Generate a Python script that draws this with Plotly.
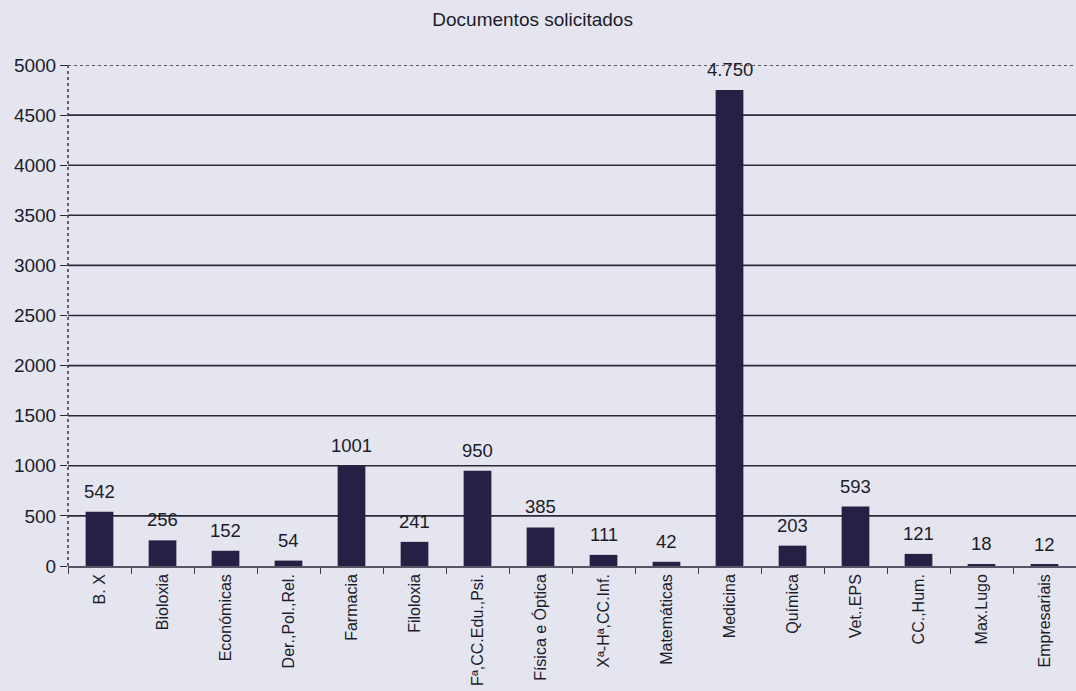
import plotly.graph_objects as go

categories = ["B. X", "Bioloxia", "Económicas", "Der.,Pol.,Rel.", "Farmacia", "Filoloxia",
              "Fª,CC.Edu.,Psi.", "Física e Óptica", "Xª-Hª,CC.Inf.", "Matemáticas", "Medicina",
              "Química", "Vet.,EPS", "CC.,Hum.", "Max.Lugo", "Empresariais"]
values = [542, 256, 152, 54, 1001, 241, 950, 385, 111, 42, 4750, 203, 593, 121, 18, 12]
value_labels = ["542", "256", "152", "54", "1001", "241", "950", "385", "111", "42", "4.750",
                "203", "593", "121", "18", "12"]
y_ticks = [0, 500, 1000, 1500, 2000, 2500, 3000, 3500, 4000, 4500, 5000]
solid_grid = [500, 1000, 1500, 2000, 2500, 3000, 3500, 4000, 4500]
top_grid = [5000]

BG = "#e5e5ef"
BAR = "#242144"
INK = "#1c1c2a"
FONT = "Liberation Sans, Arial, sans-serif"

fig = go.Figure()
fig.add_trace(go.Bar(x=categories, y=values, marker=dict(color=BAR, line=dict(width=0)),
                     hoverinfo="x+y"))

annotations = []
for c, v, t in zip(categories, values, value_labels):
    annotations.append(dict(x=c, y=v, text=t, showarrow=False, xref="x", yref="y",
                            yanchor="bottom", yshift=8,
                            font=dict(family=FONT, size=18.5, color=INK)))

shapes = []
for g in solid_grid:
    shapes.append(dict(type="line", xref="paper", x0=0, x1=1, yref="y", y0=g, y1=g,
                       line=dict(color="#2a2a3a", width=1.6), layer="below"))
for g in top_grid:
    shapes.append(dict(type="line", xref="paper", x0=0, x1=1, yref="y", y0=g, y1=g,
                       line=dict(color="#2a2a3a", width=1.6, dash="dot"), layer="below"))
shapes.append(dict(type="line", xref="paper", x0=0, x1=0, yref="y", y0=0, y1=max(y_ticks),
                   line=dict(color="#2a2a3a", width=1.4, dash="dot"), layer="below"))

fig.update_layout(
    width=1076, height=691,
    paper_bgcolor=BG, plot_bgcolor=BG,
    margin=dict(l=68, r=0, t=65, b=125),
    bargap=0.56,
    showlegend=False,
    title=dict(text="Documentos solicitados", xref="container", x=0.495, xanchor="center",
               yref="container", y=0.972, yanchor="middle",
               font=dict(family=FONT, size=19, color=INK)),
    annotations=annotations,
    shapes=shapes,
    xaxis=dict(type="category", tickangle=-90, tickson="boundaries", ticks="outside",
               ticklen=6, tickcolor="#3a3a4a", tickwidth=1.2,
               showline=True, linecolor="#555566", linewidth=1.5, showgrid=False,
               tickfont=dict(family=FONT, size=16, color=INK), range=[-0.5, 15.5]),
    yaxis=dict(range=[0, 5000], tickvals=y_ticks, ticktext=[str(v) for v in y_ticks],
               showgrid=False, zeroline=False, showline=False,
               ticks="outside", ticklen=7, tickcolor="#2a2a3a", tickwidth=1.2,
               tickfont=dict(family=FONT, size=19, color=INK)),
)

fig.write_html("out.html", config={"displayModeBar": False},
               post_script="document.body.style.margin='0';document.body.style.background='" + BG + "';")
